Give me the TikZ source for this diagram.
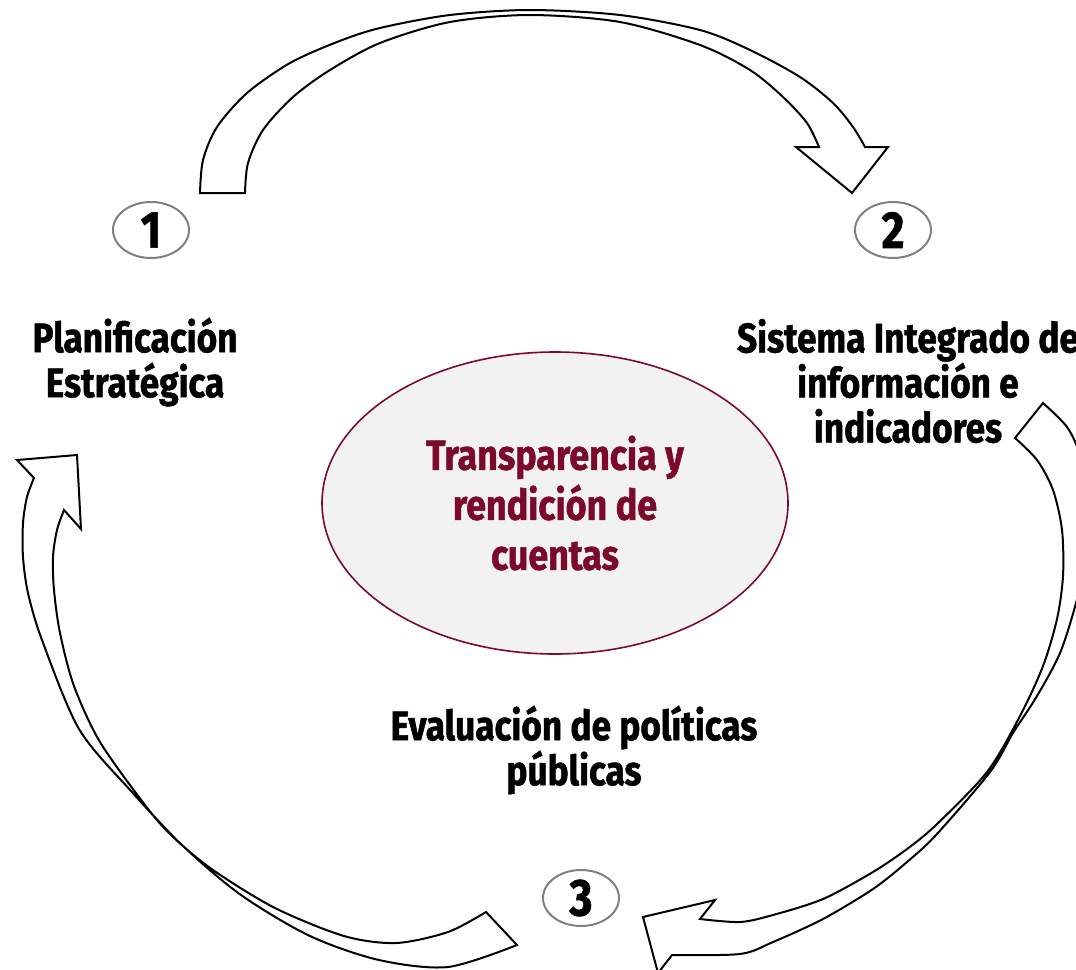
\documentclass[tikz,border=0pt]{standalone}
\usepackage{fontspec}
\newfontfamily\labelfont{Fira Sans}[FakeStretch=0.85,FakeBold=1.2]
\usetikzlibrary{shapes.geometric}
\definecolor{wine}{HTML}{7B0A2A}
\definecolor{shade}{HTML}{F2F2F2}

\begin{document}
\begin{tikzpicture}[
            x=0.5pt,y=-0.5pt,
            every node/.append style={black},
            blockarrow/.style={draw=black,line width=1pt,fill=white,line join=miter},
            numbox/.style={ellipse,draw=black!50,line width=1pt,minimum width=38pt,minimum height=28pt,
                inner sep=0pt,font=\labelfont\bfseries\fontsize{26}{26}\selectfont},
            stage/.style={align=center,inner sep=0pt,font=\labelfont\bfseries\fontsize{20.7}{22.5}\selectfont}
        ]
            \useasboundingbox (0,0) rectangle (1076,969);
            \draw[blockarrow] plot[smooth] coordinates {(200,193) (203,160) (217,127) (247,93) (290,63)
                    (337,42) (380,28) (450,15) (530,10) (620,15) (700,30) (750,50) (800,77) (833,103)
                    (853,127) (865,147)}
                -- (888,147) -- (852,193) -- (796,147)
                -- plot[smooth] coordinates {(819,147) (807,123) (783,97) (750,70) (700,45) (620,22)
                    (530,15) (450,22) (380,43) (330,70) (293,97) (263,130) (248,163) (245,193)}
                -- cycle;
            \draw[blockarrow] (1015,438) -- (1043,403)
                -- plot[smooth] coordinates {(1043,403) (1067,427) (1080,455) (1089,500) (1088,550)
                    (1076,603) (1060,653) (1037,696) (1013,733) (990,772) (936,835) (907,862)
                    (873,889) (823,919) (773,942) (740,954) (672,955)}
                -- (658,973) -- (643,917) -- (715,900)
                -- plot[smooth] coordinates {(700,919) (740,922) (773,915) (823,899) (873,872)
                    (907,849) (936,825) (987,772) (1020,716) (1043,666) (1057,619) (1063,576)
                    (1062,530) (1053,490) (1037,460) (1015,438)}
                -- cycle;
            \draw[blockarrow] plot[smooth] coordinates {(517,945) (448,967) (379,960) (310,936)
                    (241,895) (183,846) (131,791) (79,729) (42,640) (28,593) (23,557) (23,523)
                    (27,497) (34,478)}
                -- (17,460) -- (77,455) -- (81,529)
                -- plot[smooth] coordinates {(64,510) (57,530) (53,557) (54,590) (60,633) (74,686)
                    (100,742) (145,805) (172,836) (213,870) (275,908) (344,936) (396,943) (448,932)
                    (486,912)}
                -- cycle;
            \node[ellipse,draw=wine,line width=0.8pt,fill=shade,minimum width=233pt,minimum height=151pt,
                align=center,text=wine,font=\labelfont\bfseries\fontsize{21.1}{25}\selectfont]
                (centro) at (555,503) {Transparencia y\\rendición de\\cuentas};
            \node[numbox] (one) at (151,230) {1};
            \node[numbox] (two) at (893,230) {2};
            \node[numbox] (three) at (581,898) {3};
            \node[stage] (plan) at (135,362) {Planificación\\Estratégica};
            \node[stage] (sistema) at (908,381) {Sistema Integrado de\\información e\\indicadores};
            \node[stage] (evaluacion) at (574,750) {Evaluación de políticas\\públicas};
        \end{tikzpicture}
\end{document}
